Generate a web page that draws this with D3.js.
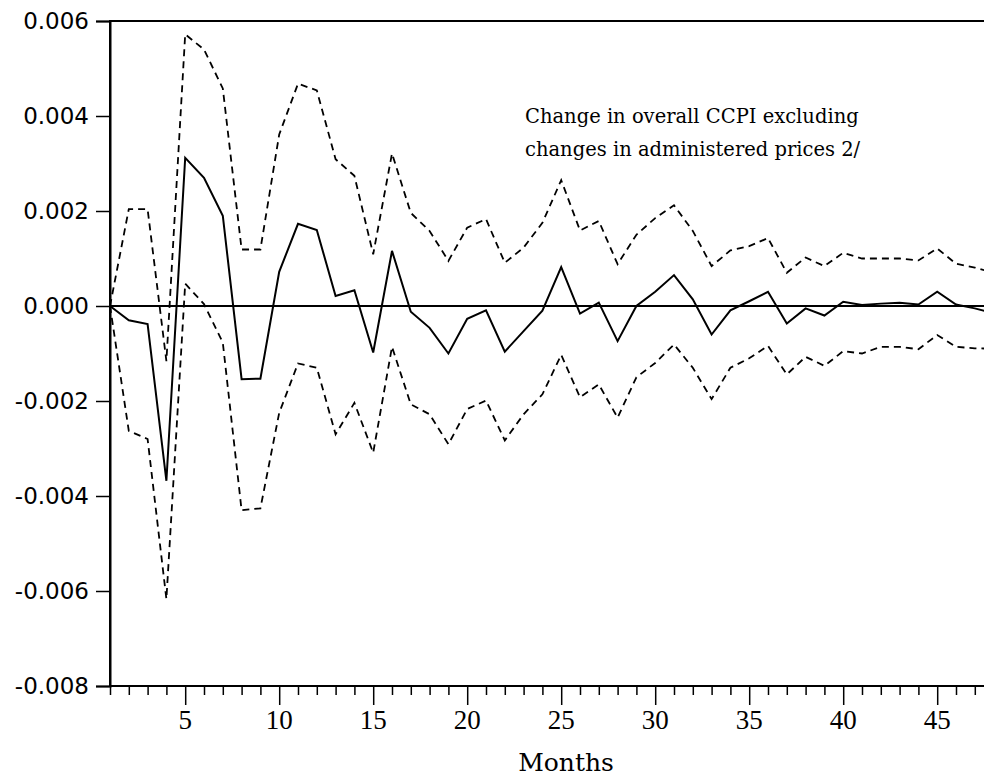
<!DOCTYPE html>
<meta charset="utf-8">
<body style="margin:0;background:#fff">
<div class="chart"></div>
<script src="https://d3js.org/d3.v7.min.js"></script>
<script>

    // months 1..48
    let months = d3.range(1, 49);

    let response = [0, -0.0003, -0.00038, -0.00368, 0.00312, 0.0027, 0.0019, -0.00154, -0.00153, 0.00072,
        0.00173, 0.0016, 0.00021, 0.00033, -0.00098, 0.00116, -0.00012, -0.00046, -0.001, -0.00027,
        -0.00009, -0.00096, -0.00053, -0.0001, 0.00082, -0.00016, 0.00007, -0.00074, 0.0, 0.0003,
        0.00065, 0.00014, -0.0006, -0.00009, 0.0001, 0.0003, -0.00037, -0.00005, -0.0002, 0.00009,
        0.00002, 0.00005, 0.00007, 0.00003, 0.0003, 0.00003, -0.00005, -0.00015];

    let upperBand = [0, 0.00204, 0.00204, -0.00116, 0.00572, 0.0054, 0.00458, 0.00119, 0.00119, 0.00361,
        0.00468, 0.00454, 0.00309, 0.00274, 0.00109, 0.00321, 0.00196, 0.00158, 0.00095, 0.00165,
        0.00183, 0.00091, 0.00123, 0.00175, 0.00265, 0.00159, 0.00179, 0.00088, 0.0015, 0.00185,
        0.00212, 0.00158, 0.00084, 0.00117, 0.00126, 0.00143, 0.0007, 0.00102, 0.00084, 0.00112,
        0.001, 0.001, 0.001, 0.00096, 0.00121, 0.00089, 0.00081, 0.0007];

    let lowerBand = [0, -0.00263, -0.0028, -0.00617, 0.00047, 0.00004, -0.00077, -0.0043, -0.00426, -0.00225,
        -0.00121, -0.0013, -0.0027, -0.00204, -0.00309, -0.00086, -0.00207, -0.00228, -0.00291, -0.00217,
        -0.00199, -0.00283, -0.00228, -0.00186, -0.00103, -0.00192, -0.00165, -0.00235, -0.0015, -0.0012,
        -0.00081, -0.0013, -0.00196, -0.0013, -0.0011, -0.00084, -0.00144, -0.00107, -0.00126, -0.00095,
        -0.001, -0.00086, -0.00086, -0.00091, -0.00061, -0.00086, -0.00089, -0.0009];

    let yTicks = [-0.008, -0.006, -0.004, -0.002, 0, 0.002, 0.004, 0.006];
    let xLabelTicks = [5, 10, 15, 20, 25, 30, 35, 40, 45];
    let noteLines = ["Change in overall CCPI excluding", "changes in administered prices 2/"];

    let width = 984, height = 781;
    let margin = {top: 21, left: 110, bottom: 95};

    let svg = d3.select(".chart").append("svg")
        .attr("width", width)
        .attr("height", height)
        .style("display", "block");

    let x = d3.scaleLinear().domain([1, 48]).range([margin.left, margin.left + 47 * 18.8]);
    let y = d3.scaleLinear().domain([-0.008, 0.006]).range([height - margin.bottom, margin.top]);

    // frame (right side falls outside the picture)
    svg.append("rect")
        .attr("x", x(1)).attr("y", y(0.006))
        .attr("width", x(48) - x(1) + 20).attr("height", y(-0.008) - y(0.006))
        .attr("fill", "none").attr("stroke", "#000").attr("stroke-width", 2);

    // y axis
    let yAxis = svg.append("g")
        .attr("transform", `translate(${x(1)},0)`)
        .call(d3.axisLeft(y).tickValues(yTicks).tickSize(14).tickPadding(7).tickFormat(d3.format(".3f")));
    yAxis.select(".domain").attr("stroke-width", 2);
    yAxis.selectAll(".tick line").attr("stroke-width", 1.5);
    yAxis.selectAll("text")
        .attr("font-family", "DejaVu Sans")
        .attr("font-size", 23)
        .attr("fill", "#000")
        .text(d => d3.format(".3f")(d).replace("−", "-"));

    // x axis: minor ticks each month, long ones every 5
    let xAxis = svg.append("g")
        .attr("transform", `translate(0,${y(-0.008)})`)
        .call(d3.axisBottom(x).tickValues(months).tickSize(9).tickFormat(""));
    xAxis.select(".domain").remove();
    xAxis.selectAll(".tick line")
        .attr("stroke-width", 1.5)
        .attr("y2", d => d % 5 === 0 ? 19 : 9);

    svg.append("g")
        .selectAll("text")
        .data(xLabelTicks)
        .join("text")
        .attr("x", d => x(d))
        .attr("y", y(-0.008) + 43)
        .attr("text-anchor", "middle")
        .attr("font-family", "Liberation Serif")
        .attr("font-size", 27)
        .text(d => d);

    svg.append("text")
        .attr("x", 566)
        .attr("y", 771)
        .attr("text-anchor", "middle")
        .attr("font-family", "DejaVu Serif")
        .attr("font-size", 25)
        .text("Months");

    // zero line
    svg.append("line")
        .attr("x1", x(1)).attr("x2", width)
        .attr("y1", y(0)).attr("y2", y(0))
        .attr("stroke", "#000").attr("stroke-width", 2);

    let line = d3.line().x((d, i) => x(months[i])).y(d => y(d));

    svg.append("path").datum(upperBand)
        .attr("d", line).attr("fill", "none")
        .attr("stroke", "#000").attr("stroke-width", 1.8).attr("stroke-dasharray", "7,5");

    svg.append("path").datum(lowerBand)
        .attr("d", line).attr("fill", "none")
        .attr("stroke", "#000").attr("stroke-width", 1.8).attr("stroke-dasharray", "7,5");

    svg.append("path").datum(response)
        .attr("d", line).attr("fill", "none")
        .attr("stroke", "#000").attr("stroke-width", 2);

    svg.append("g")
        .selectAll("text")
        .data(noteLines)
        .join("text")
        .attr("x", 525)
        .attr("y", (d, i) => 123 + i * 33)
        .attr("font-family", "DejaVu Serif")
        .attr("font-size", 19.5)
        .text(d => d);

</script>
